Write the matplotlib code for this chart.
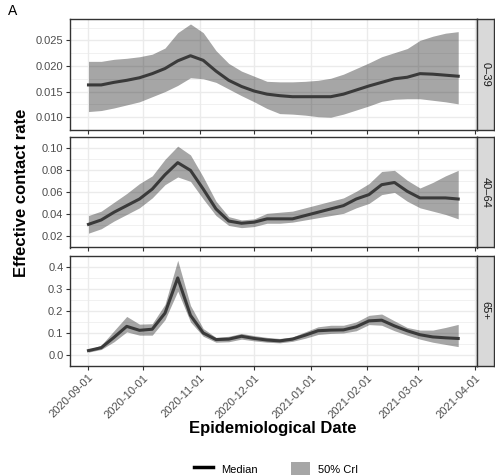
import numpy as np
import pandas as pd
import matplotlib
matplotlib.use("Agg")
import matplotlib.pyplot as plt
from matplotlib.lines import Line2D
from matplotlib.patches import Patch, Rectangle

plt.rcParams['font.family'] = ['Liberation Sans', 'DejaVu Sans']

# weekly estimates
dates = pd.date_range("2020-09-01", periods=30, freq="7D")

groups = ["0\u201339", "40\u201364", "65+"]

med_0_39 = [0.0163, 0.0163, 0.0168, 0.0172, 0.0177, 0.0185, 0.0195, 0.0210, 0.0220, 0.0211,
            0.0190, 0.0172, 0.0160, 0.0151, 0.0145, 0.0142, 0.0140, 0.0140, 0.0140, 0.0140,
            0.0145, 0.0153, 0.0161, 0.0168, 0.0175, 0.0178, 0.0185, 0.0184, 0.0182, 0.0180]
lo_0_39 = [0.0111, 0.0113, 0.0118, 0.0124, 0.0130, 0.0140, 0.0150, 0.0162, 0.0177, 0.0175,
           0.0168, 0.0155, 0.0142, 0.0130, 0.0117, 0.0107, 0.0106, 0.0104, 0.0101, 0.0100,
           0.0106, 0.0114, 0.0122, 0.0131, 0.0135, 0.0136, 0.0136, 0.0133, 0.0130, 0.0126]
hi_0_39 = [0.0209, 0.0209, 0.0213, 0.0215, 0.0218, 0.0223, 0.0235, 0.0265, 0.0282, 0.0265,
           0.0230, 0.0205, 0.0190, 0.0180, 0.0170, 0.0169, 0.0169, 0.0170, 0.0172, 0.0176,
           0.0184, 0.0195, 0.0206, 0.0218, 0.0226, 0.0234, 0.0250, 0.0258, 0.0264, 0.0267]

med_40_64 = [0.031, 0.035, 0.042, 0.048, 0.054, 0.063, 0.076, 0.087, 0.080, 0.063,
             0.045, 0.034, 0.032, 0.033, 0.036, 0.036, 0.036, 0.039, 0.042, 0.045,
             0.048, 0.054, 0.058, 0.067, 0.069, 0.061, 0.055, 0.055, 0.055, 0.054]
lo_40_64 = [0.023, 0.027, 0.034, 0.040, 0.046, 0.055, 0.067, 0.074, 0.070, 0.054,
            0.039, 0.030, 0.028, 0.029, 0.032, 0.032, 0.033, 0.035, 0.037, 0.039,
            0.041, 0.046, 0.050, 0.058, 0.060, 0.052, 0.046, 0.043, 0.040, 0.036]
hi_40_64 = [0.039, 0.043, 0.051, 0.059, 0.068, 0.075, 0.090, 0.102, 0.094, 0.074,
            0.052, 0.038, 0.035, 0.036, 0.041, 0.042, 0.043, 0.046, 0.049, 0.052,
            0.055, 0.061, 0.068, 0.079, 0.080, 0.071, 0.064, 0.069, 0.075, 0.080]

med_65 = [0.020, 0.033, 0.080, 0.130, 0.112, 0.117, 0.190, 0.350, 0.180, 0.100,
          0.070, 0.072, 0.085, 0.075, 0.068, 0.064, 0.072, 0.090, 0.110, 0.113,
          0.114, 0.128, 0.155, 0.158, 0.132, 0.110, 0.092, 0.082, 0.078, 0.075]
lo_65 = [0.013, 0.025, 0.060, 0.105, 0.090, 0.090, 0.160, 0.290, 0.150, 0.085,
         0.058, 0.060, 0.072, 0.064, 0.058, 0.055, 0.062, 0.076, 0.093, 0.098,
         0.100, 0.110, 0.138, 0.135, 0.110, 0.090, 0.072, 0.058, 0.048, 0.038]
hi_65 = [0.024, 0.045, 0.110, 0.175, 0.140, 0.142, 0.230, 0.430, 0.225, 0.120,
         0.080, 0.085, 0.098, 0.088, 0.080, 0.075, 0.082, 0.105, 0.128, 0.135,
         0.135, 0.150, 0.180, 0.186, 0.155, 0.125, 0.113, 0.113, 0.125, 0.139]

medians = [med_0_39, med_40_64, med_65]
lowers = [lo_0_39, lo_40_64, lo_65]
uppers = [hi_0_39, hi_40_64, hi_65]

yticks = [[0.010, 0.015, 0.020, 0.025],
          [0.02, 0.04, 0.06, 0.08, 0.10],
          [0.0, 0.1, 0.2, 0.3, 0.4]]
ylabels = [["0.010", "0.015", "0.020", "0.025"],
           ["0.02", "0.04", "0.06", "0.08", "0.10"],
           ["0.0", "0.1", "0.2", "0.3", "0.4"]]

xticks = pd.to_datetime(["2020-09-01", "2020-10-01", "2020-11-01", "2020-12-01",
                         "2021-01-01", "2021-02-01", "2021-03-01", "2021-04-01"])

W, H = 495, 475
fig = plt.figure(figsize=(W / 100, H / 100), dpi=100)

left, right = 70, 476.7
panels = [(19.3, 130.0), (137.3, 247.5), (255.7, 366.0)]
strip_w = 17.5

# x range: data range with 5% expansion (ggplot style)
x0 = matplotlib.dates.date2num(dates[0])
x1 = matplotlib.dates.date2num(dates[-1])
xpad = (x1 - x0) * 0.05

axes = []
for k, (top, bot) in enumerate(panels):
    ax = fig.add_axes([left / W, 1 - bot / H, (right - left) / W, (bot - top) / H])
    axes.append(ax)
    lo, hi, med = np.array(lowers[k]), np.array(uppers[k]), np.array(medians[k])
    ax.fill_between(dates, lo, hi, color="black", alpha=0.35, linewidth=0, zorder=2)
    ax.plot(dates, med, color="#3a3a3a", linewidth=2.2, zorder=3, solid_joinstyle="round")

    ymin, ymax = lo.min(), hi.max()
    ypad = (ymax - ymin) * 0.05
    ax.set_ylim(ymin - ypad, ymax + ypad)
    ax.set_xlim(x0 - xpad, x1 + xpad)

    yt = yticks[k]
    step = yt[1] - yt[0]
    ax.set_yticks(yt)
    ax.set_yticklabels(ylabels[k])
    minor = [v + step / 2 for v in [yt[0] - step] + yt]
    ax.set_yticks(minor, minor=True)
    ax.set_xticks(xticks)
    ax.tick_params(axis="y", which="minor", length=0)

    ax.set_facecolor("white")
    ax.grid(True, which="major", color="#EBEBEB", linewidth=1.0, zorder=0)
    ax.grid(True, which="minor", axis="y", color="#EBEBEB", linewidth=0.5, zorder=0)
    ax.set_axisbelow(True)
    for s in ax.spines.values():
        s.set_color("#333333")
        s.set_linewidth(1.0)
    ax.tick_params(which="major", length=2.75, width=0.8, color="#333333",
                   labelcolor="#4D4D4D", labelsize=8, pad=2)
    if k < 2:
        ax.tick_params(axis="x", labelbottom=False)
    else:
        ax.set_xticklabels([d.strftime("%Y-%m-%d") for d in xticks],
                           rotation=45, ha="right", va="top", rotation_mode="anchor")

    # facet strip
    sax = fig.add_axes([right / W, 1 - bot / H, strip_w / W, (bot - top) / H])
    sax.set_xticks([])
    sax.set_yticks([])
    sax.set_facecolor("#D9D9D9")
    for s in sax.spines.values():
        s.set_color("#333333")
        s.set_linewidth(1.0)
    sax.text(0.5, 0.5, groups[k], rotation=-90, ha="center", va="center",
             fontsize=8, color="#1A1A1A", transform=sax.transAxes)

fig.text(13 / W, 1 - 11 / H, "A", fontsize=10, ha="center", va="center")
fig.text(22 / W, 1 - 193 / H, "Effective contact rate", rotation=90, fontsize=12,
         fontweight="bold", ha="center", va="center")
fig.text(273 / W, 1 - 429 / H, "Epidemiological Date", fontsize=12,
         fontweight="bold", ha="center", va="center")

handles = [Line2D([0], [0], color="black", linewidth=2.5),
           Patch(facecolor="black", alpha=0.35, edgecolor="none")]
fig.legend(handles, ["Median", "50% CrI"], ncol=2, loc="center",
           bbox_to_anchor=(276 / W, 1 - 469 / H), frameon=False, fontsize=8,
           handlelength=1.7, handleheight=1.7, columnspacing=3.0, handletextpad=0.7)

fig.savefig("out.png", dpi=100, facecolor="white")
